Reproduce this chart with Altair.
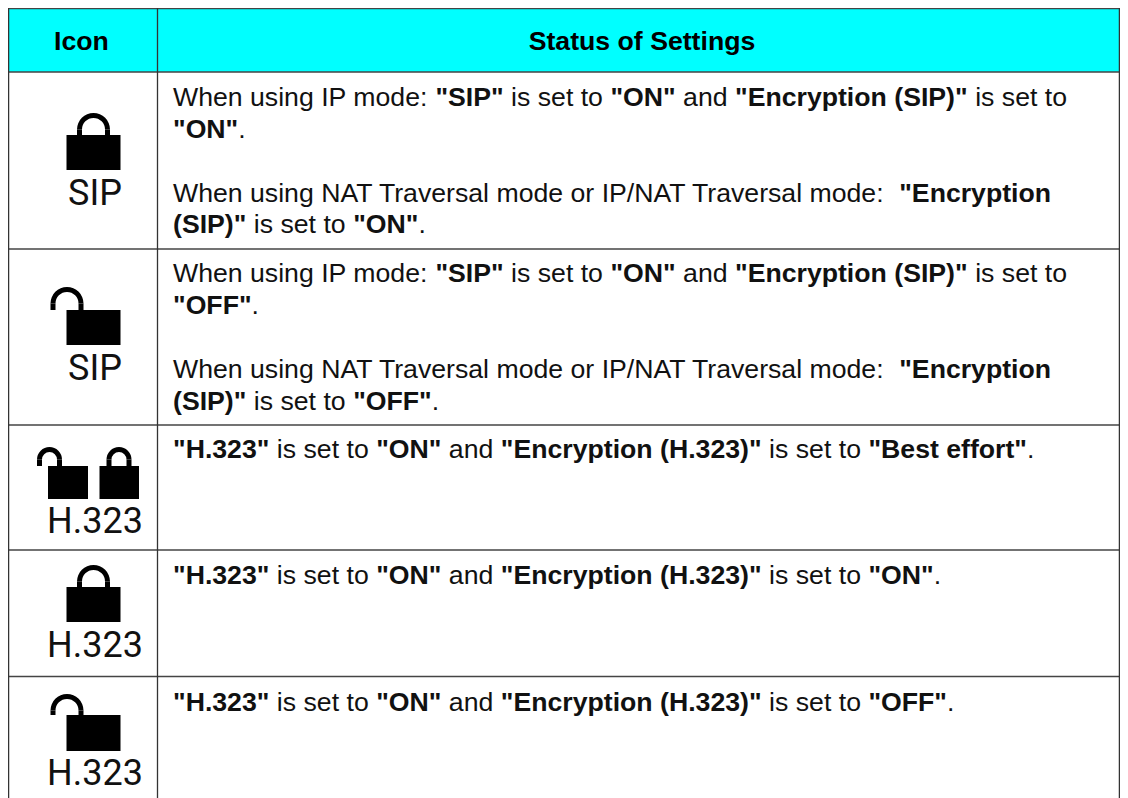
import math
import altair as alt
import pandas as pd

FONT = "Liberation Sans"
FS = 26.67
TEXT_X = 173.0

REG = {" ":278,'"':355,"(":333,")":333,".":278,"/":278,":":278,"2":556,"3":556,"A":667,"E":667,"H":722,"I":278,
       "N":722,"O":778,"P":667,"S":667,"T":611,"W":944,"a":556,"b":556,"c":500,"d":556,"e":556,"f":278,"g":556,
       "h":556,"i":222,"l":222,"m":833,"n":556,"o":556,"p":556,"r":333,"s":500,"t":278,"u":556,"v":500,"y":500}
BOLD = {" ":278,'"':474,"(":333,")":333,".":278,"2":556,"3":556,"B":722,"E":667,"F":611,"H":722,"I":278,"N":722,
        "O":778,"P":667,"S":667,"a":556,"b":611,"c":556,"d":611,"e":556,"f":333,"i":278,"l":278,"n":611,"o":611,
        "p":611,"r":389,"s":556,"t":333,"u":611,"y":556}

# (baseline, [(text, bold), ...])
BODY_LINES = [
    (106, [("When using IP mode: ",0),('"SIP"',1),(" is set to ",0),('"ON"',1),(" and ",0),('"Encryption (SIP)"',1),(" is set to",0)]),
    (137.5, [('"ON"',1),(".",0)]),
    (201.5, [("When using NAT Traversal mode or IP/NAT Traversal mode: ",0),('"Encryption',1)]),
    (233, [('(SIP)"',1),(" is set to ",0),('"ON"',1),(".",0)]),
    (282, [("When using IP mode: ",0),('"SIP"',1),(" is set to ",0),('"ON"',1),(" and ",0),('"Encryption (SIP)"',1),(" is set to",0)]),
    (313.5, [('"OFF"',1),(".",0)]),
    (378, [("When using NAT Traversal mode or IP/NAT Traversal mode: ",0),('"Encryption',1)]),
    (409.5, [('(SIP)"',1),(" is set to ",0),('"OFF"',1),(".",0)]),
    (458, [('"H.323"',1),(" is set to ",0),('"ON"',1),(" and ",0),('"Encryption (H.323)"',1),(" is set to ",0),('"Best effort"',1),(".",0)]),
    (584, [('"H.323"',1),(" is set to ",0),('"ON"',1),(" and ",0),('"Encryption (H.323)"',1),(" is set to ",0),('"ON"',1),(".",0)]),
    (710.5, [('"H.323"',1),(" is set to ",0),('"ON"',1),(" and ",0),('"Encryption (H.323)"',1),(" is set to ",0),('"OFF"',1),(".",0)]),
]
HEADERS = [("Icon", 81.5, 50), ("Status of Settings", 642, 50)]
ICON_LABELS = [("SIP", 95, 204.5), ("SIP", 95, 380), ("H.323", 95, 533), ("H.323", 95, 656.5), ("H.323", 95, 785)]

H_LINES = [72, 249, 425, 550, 676.5]
V_LINES = [8.6, 157.5, 1119.4]

# lock bodies: x, x2, y, y2
BODIES = [(66.5,120.5,135,170),(66.5,120.5,310,345),(48,88,466,499),(99.5,139,466,499),(66.5,120.5,587,622),(66.5,120.5,715,751)]
# shackles: centre x, centre y, big?, body top
SHACKLES = [(93.5,129.5,1,135),(67,303.5,1,310),(49.5,459.5,0,466),(119,459.5,0,466),(93.5,581.5,1,587),(67,710.5,1,715)]

sx = alt.Scale(domain=[8,1120], nice=False, zero=False)
sy = alt.Scale(domain=[798,8], nice=False, zero=False)
X = lambda f="x": alt.X(f+":Q", scale=sx, axis=None)
Y = lambda f="y": alt.Y(f+":Q", scale=sy, axis=None)

def width(s, bold):
    t = BOLD if bold else REG
    return sum(t[c] for c in s) * FS / 1000

segs = []
for base, parts in BODY_LINES:
    x = TEXT_X
    for s, b in parts:
        lead = len(s) - len(s.lstrip(" "))
        segs.append({"x": x + width(" "*lead, b), "y": base, "t": s.strip(" "), "b": b})
        x += width(s, b)
segs = pd.DataFrame(segs)

def text_layer(df, weight):
    return alt.Chart(df).mark_text(font=FONT, fontSize=FS, fontWeight=weight, color="#111111", align="left", baseline="alphabetic").encode(x=X(), y=Y(), text="t:N")

legs = []
for cx, cy, big, top in SHACKLES:
    r = 16.5 if big else 12.5
    legs.append({"x": cx-r, "x2": cx-r+5, "y": cy, "y2": top})
    legs.append({"x": cx+r-5, "x2": cx+r, "y": cy, "y2": top})
legs = pd.DataFrame(legs)
bodies = pd.DataFrame(BODIES, columns=["x","x2","y","y2"])
shk = pd.DataFrame(SHACKLES, columns=["x","y","big","top"])

def rects(df, color):
    return alt.Chart(df).mark_rect(color=color).encode(x=X(), x2="x2:Q", y=Y(), y2="y2:Q")

def arcs(df, r):
    return alt.Chart(df).mark_arc(color="#000000", radius=r, radius2=r-5, theta=1.5*math.pi, theta2=2.5*math.pi).encode(x=X(), y=Y())

header = rects(pd.DataFrame([{"x":8,"x2":1120,"y":8,"y2":72}]), "#00FFFF")
hr = pd.DataFrame([{"x":8,"x2":1120,"y":v} for v in [8.6]+H_LINES])
vr = pd.DataFrame([{"x":v,"y":8,"y2":798} for v in V_LINES])
h_rule = alt.Chart(hr).mark_rule(color="#444444", strokeWidth=1.4).encode(x=X(), x2="x2:Q", y=Y())
v_rule = alt.Chart(vr).mark_rule(color="#333333", strokeWidth=1.3).encode(x=X(), y=Y(), y2="y2:Q")

head_txt = alt.Chart(pd.DataFrame(HEADERS, columns=["t","x","y"])).mark_text(font=FONT, fontSize=FS, fontWeight="bold", color="#000000", align="center", baseline="alphabetic").encode(x=X(), y=Y(), text="t:N")
icon_txt = alt.Chart(pd.DataFrame(ICON_LABELS, columns=["t","x","y"])).mark_text(font="Roboto", fontSize=36, fontWeight=400, color="#111111", align="center", baseline="alphabetic").encode(x=X(), y=Y(), text="t:N")

chart = alt.layer(
    header, h_rule, v_rule,
    rects(bodies, "#000000"), rects(legs, "#000000"),
    arcs(shk[shk.big==1], 16.5), arcs(shk[shk.big==0], 12.5),
    head_txt, icon_txt,
    text_layer(segs[segs.b==0], "normal"), text_layer(segs[segs.b==1], "bold"),
).properties(width=1112, height=790, padding=0, autosize=alt.AutoSizeParams(type="none")).configure_view(stroke=None)

chart.save("out.html", embed_options={"renderer": "svg", "actions": False})
